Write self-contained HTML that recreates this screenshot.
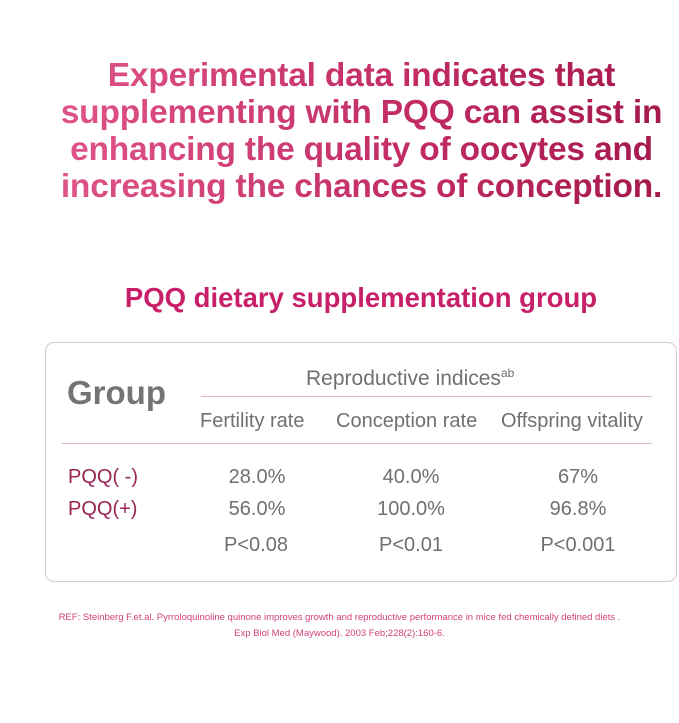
<!DOCTYPE html>
<html><head><meta charset="utf-8"><style>
body{margin:0;width:679px;height:723px;background:#fff;position:relative;overflow:hidden;font-family:"Liberation Sans",sans-serif}
.a{position:absolute;white-space:nowrap}
.h{width:679px;text-align:center;font-weight:bold;font-size:33.5px;line-height:37px;top:57px;letter-spacing:-0.2px;background:linear-gradient(90deg,#e2588c,#c02a63 60%,#a0164a);-webkit-background-clip:text;background-clip:text;color:transparent;left:22px}
.g{color:#707070}
.p{color:#9a2455}
.c{text-align:center;width:160px}
</style></head><body>
<div class="a h">Experimental data indicates that<br>supplementing with PQQ can assist in<br>enhancing the quality of oocytes and<br>increasing the chances of conception.</div>
<div class="a" style="left:0;width:722px;text-align:center;top:282px;font-size:27.5px;font-weight:bold;color:#c71f68">PQQ dietary supplementation group</div>
<div class="a" style="left:45px;top:342px;width:630px;height:238px;border:1.5px solid #d9c8cf;border-radius:9px"></div>
<div class="a" style="left:67px;top:374px;font-size:33px;font-weight:bold;color:#747474">Group</div>
<div class="a g" style="left:306px;top:366px;font-size:21px">Reproductive indices<sup style="font-size:12px">ab</sup></div>
<div class="a" style="left:201px;top:396px;width:451px;height:1px;background:#d8b8c6"></div>
<div class="a g" style="left:200px;top:410px;font-size:20px">Fertility rate</div>
<div class="a g" style="left:336px;top:410px;font-size:20px">Conception rate</div>
<div class="a g" style="left:501px;top:410px;font-size:20px">Offspring vitality</div>
<div class="a" style="left:62px;top:443px;width:590px;height:1px;background:#d8b8c6"></div>
<div class="a p" style="left:68px;top:466px;font-size:20px">PQQ( -)</div>
<div class="a p" style="left:68px;top:498px;font-size:20px">PQQ(+)</div>
<div class="a g c" style="left:177px;top:466px;font-size:20px">28.0%</div>
<div class="a g c" style="left:331px;top:466px;font-size:20px">40.0%</div>
<div class="a g c" style="left:498px;top:466px;font-size:20px">67%</div>
<div class="a g c" style="left:177px;top:498px;font-size:20px">56.0%</div>
<div class="a g c" style="left:331px;top:498px;font-size:20px">100.0%</div>
<div class="a g c" style="left:498px;top:498px;font-size:20px">96.8%</div>
<div class="a g c" style="left:176px;top:534px;font-size:20px">P&lt;0.08</div>
<div class="a g c" style="left:331px;top:534px;font-size:20px">P&lt;0.01</div>
<div class="a g c" style="left:498px;top:534px;font-size:20px">P&lt;0.001</div>
<div class="a" style="left:0;width:679px;text-align:center;top:610px;font-size:9.5px;line-height:16px;color:#d2407e">REF: Steinberg F.et.al. Pyrroloquinoline quinone improves growth and reproductive performance in mice fed chemically defined diets .<br>Exp Biol Med (Maywood). 2003 Feb;228(2):160-6.</div>
</body></html>
